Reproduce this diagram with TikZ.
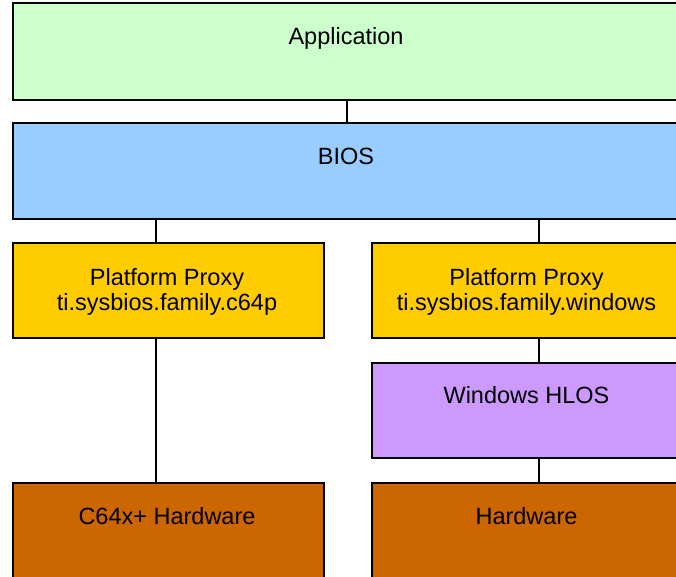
\documentclass[tikz,border=0pt]{standalone}
\usepackage{fontspec}
\setmainfont{Liberation Sans}
\definecolor{appgreen}{HTML}{CCFFCC}
\definecolor{biosblue}{HTML}{99CCFF}
\definecolor{proxyyellow}{HTML}{FFCC00}
\definecolor{hlospurple}{HTML}{CC99FF}
\definecolor{hwbrown}{HTML}{CC6600}
\begin{document}
\begin{tikzpicture}[x=1pt,y=-1pt,
  box/.style={draw=black, line width=2pt, rectangle, inner sep=0pt, anchor=north west},
  lbl/.style={inner sep=0pt, align=center, font=\fontsize{23.5}{25}\selectfont, anchor=base},
  conn/.style={draw=black, line width=2pt}]
\useasboundingbox (0,0) rectangle (676,576);
\clip (0,0) rectangle (676,576);
% boxes
\node[box, fill=appgreen, minimum width=670.5pt, minimum height=96.5pt] (app) at (11.5,2) {};
\node[box, fill=biosblue, minimum width=670.5pt, minimum height=95.5pt] (bios) at (11.5,122) {};
\node[box, fill=proxyyellow, minimum width=311.5pt, minimum height=95pt] (proxyL) at (11.5,242) {};
\node[box, fill=proxyyellow, minimum width=311pt, minimum height=95pt] (proxyR) at (371,242) {};
\node[box, fill=hlospurple, minimum width=311pt, minimum height=95pt] (hlos) at (371,362) {};
\node[box, fill=hwbrown, minimum width=311.5pt, minimum height=95pt] (hwL) at (11.5,482) {};
\node[box, fill=hwbrown, minimum width=311pt, minimum height=95pt] (hwR) at (371,482) {};
% labels
\node[lbl] (tapp) at (346,44) {Application};
\node[lbl] (tbios) at (346,164) {BIOS};
\node[lbl] (tproxyL) at (167,310) {Platform Proxy\\ti.sysbios.family.c64p};
\node[lbl] (tproxyR) at (526.5,310) {Platform Proxy\\ti.sysbios.family.windows};
\node[lbl] (thlos) at (526.5,403) {Windows HLOS};
\node[lbl] (thwL) at (167,524) {C64x+ Hardware};
\node[lbl] (thwR) at (526.5,524) {Hardware};
% connector columns
\coordinate (cA) at (347,0);
\coordinate (cL) at (155.5,0);
\coordinate (cR) at (538.5,0);
\draw[conn] (app.south -| cA) -- (bios.north -| cA);
\draw[conn] (bios.south -| cL) -- (proxyL.north -| cL);
\draw[conn] (bios.south -| cR) -- (proxyR.north -| cR);
\draw[conn] (proxyL.south -| cL) -- (hwL.north -| cL);
\draw[conn] (proxyR.south -| cR) -- (hlos.north -| cR);
\draw[conn] (hlos.south -| cR) -- (hwR.north -| cR);
\end{tikzpicture}
\end{document}
